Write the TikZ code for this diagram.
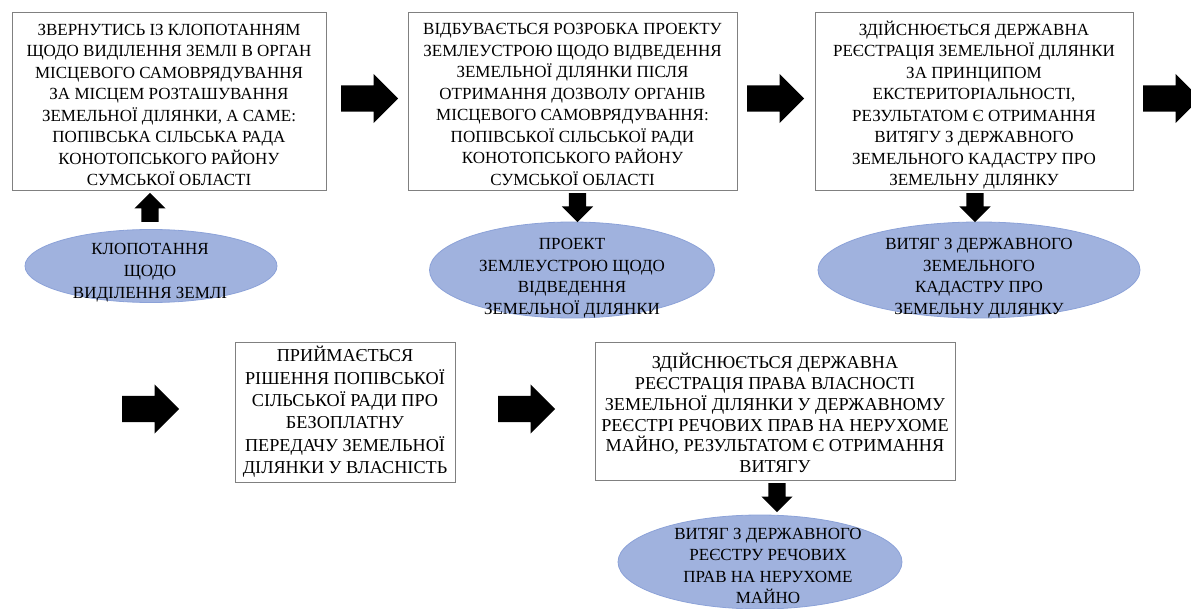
\documentclass[tikz,border=0pt]{standalone}
\usepackage{fontspec}
\setmainfont{Liberation Serif}
\usetikzlibrary{shapes.geometric,shapes.arrows}
\definecolor{boxgray}{RGB}{128,128,128}
\definecolor{ellfill}{RGB}{160,178,222}
\definecolor{elldraw}{RGB}{140,162,216}
\begin{document}
\begin{tikzpicture}[x=1pt,y=-1pt,
  txt/.style={font=\fontsize{17}{21.5}\selectfont, align=center, inner sep=0pt},
  txtb/.style={font=\fontsize{18.2}{22}\selectfont, align=center, inner sep=0pt},
  box/.style={draw=boxgray, line width=0.9pt, fill=white, inner sep=0pt},
  ell/.style={ellipse, draw=elldraw, line width=0.8pt, fill=ellfill, inner sep=0pt},
  rarrow/.style={single arrow, fill=black, draw=none, inner xsep=0pt, inner ysep=13pt,
    minimum height=57pt, single arrow head extend=11.5pt,
    single arrow head indent=0pt, anchor=tail},
  darrow/.style={single arrow, fill=black, draw=none, inner xsep=0pt, inner ysep=8.5pt,
    minimum height=29pt, single arrow head extend=7pt,
    single arrow head indent=0pt, rotate=270, anchor=tail},
  uarrow/.style={darrow, rotate=180}]
\useasboundingbox (0,0) rectangle (1191,609);
\clip (0,0) rectangle (1191,609);
% row 1 boxes
\node[box, minimum width=314pt, minimum height=178pt] (b1) at (169,101) {};
\node[txt] (b1t) at (169,105) {ЗВЕРНУТИСЬ ІЗ КЛОПОТАННЯМ\\ЩОДО ВИДІЛЕННЯ  ЗЕМЛІ В ОРГАН\\МІСЦЕВОГО САМОВРЯДУВАННЯ\\ЗА МІСЦЕМ  РОЗТАШУВАННЯ\\ЗЕМЕЛЬНОЇ ДІЛЯНКИ, А САМЕ:\\ПОПІВСЬКА СІЛЬСЬКА РАДА\\КОНОТОПСЬКОГО РАЙОНУ\\СУМСЬКОЇ ОБЛАСТІ};
\node[box, minimum width=329pt, minimum height=178pt] (b2) at (572.5,101) {};
\node[txt] (b2t) at (572.5,104.5) {ВІДБУВАЄТЬСЯ РОЗРОБКА ПРОЕКТУ\\ЗЕМЛЕУСТРОЮ ЩОДО ВІДВЕДЕННЯ\\ЗЕМЕЛЬНОЇ ДІЛЯНКИ ПІСЛЯ\\ОТРИМАННЯ ДОЗВОЛУ ОРГАНІВ\\МІСЦЕВОГО САМОВРЯДУВАННЯ:\\ПОПІВСЬКОЇ СІЛЬСЬКОЇ РАДИ\\КОНОТОПСЬКОГО РАЙОНУ\\СУМСЬКОЇ ОБЛАСТІ};
\node[box, minimum width=318pt, minimum height=178pt] (b3) at (974,101) {};
\node[txt] (b3t) at (974,105) {ЗДІЙСНЮЄТЬСЯ ДЕРЖАВНА\\РЕЄСТРАЦІЯ ЗЕМЕЛЬНОЇ ДІЛЯНКИ\\ЗА ПРИНЦИПОМ\\ЕКСТЕРИТОРІАЛЬНОСТІ,\\РЕЗУЛЬТАТОМ Є ОТРИМАННЯ\\ВИТЯГУ З ДЕРЖАВНОГО\\ЗЕМЕЛЬНОГО КАДАСТРУ ПРО\\ЗЕМЕЛЬНУ ДІЛЯНКУ};
% right arrows row 1
\node[rarrow] (a1) at (341,98.5) {};
\node[rarrow] (a2) at (747,98.5) {};
\node[rarrow] (a3) at (1143,98.5) {};
% ellipses row 1
\node[ell, minimum width=252pt, minimum height=73pt] (e1) at (151,266) {};
\node[txt, font=\fontsize{17}{22}\selectfont] (e1t) at (150,273) {КЛОПОТАННЯ\\ЩОДО\\ВИДІЛЕННЯ ЗЕМЛІ};
\node[ell, minimum width=285pt, minimum height=96pt] (e2) at (572,270) {};
\node[txt] (e2t) at (572,278) {ПРОЕКТ\\ЗЕМЛЕУСТРОЮ ЩОДО\\ВІДВЕДЕННЯ\\ЗЕМЕЛЬНОЇ ДІЛЯНКИ};
\node[ell, minimum width=322pt, minimum height=96pt] (e3) at (979,270) {};
\node[txt] (e3t) at (979,278) {ВИТЯГ З ДЕРЖАВНОГО\\ЗЕМЕЛЬНОГО\\КАДАСТРУ ПРО\\ЗЕМЕЛЬНУ ДІЛЯНКУ};
% vertical arrows row 1
\node[uarrow] (u1) at (150,222) {};
\node[darrow] (d2) at (577.5,193) {};
\node[darrow] (d3) at (975,193) {};
% row 2
\node[rarrow] (a4) at (122,409) {};
\node[box, minimum width=220pt, minimum height=140pt] (b4) at (345,412) {};
\node[txtb, font=\fontsize{18.2}{22.4}\selectfont] (b4t) at (345,412) {ПРИЙМАЄТЬСЯ\\РІШЕННЯ ПОПІВСЬКОЇ\\СІЛЬСЬКОЇ РАДИ ПРО\\БЕЗОПЛАТНУ\\ПЕРЕДАЧУ ЗЕМЕЛЬНОЇ\\ДІЛЯНКИ У ВЛАСНІСТЬ};
\node[rarrow] (a5) at (498,409) {};
\node[box, minimum width=360pt, minimum height=138pt] (b5) at (775,411) {};
\node[txtb, font=\fontsize{18.2}{20.8}\selectfont] (b5t) at (775,413) {ЗДІЙСНЮЄТЬСЯ ДЕРЖАВНА\\РЕЄСТРАЦІЯ ПРАВА ВЛАСНОСТІ\\ЗЕМЕЛЬНОЇ ДІЛЯНКИ У ДЕРЖАВНОМУ\\РЕЄСТРІ РЕЧОВИХ ПРАВ НА НЕРУХОМЕ\\МАЙНО, РЕЗУЛЬТАТОМ Є ОТРИМАННЯ\\ВИТЯГУ};
\node[darrow] (d5) at (777,483) {};
\node[ell, minimum width=284pt, minimum height=94pt] (e4) at (760,562) {};
\node[txt] (e4t) at (768,566) {ВИТЯГ З ДЕРЖАВНОГО\\РЕЄСТРУ РЕЧОВИХ\\ПРАВ НА НЕРУХОМЕ\\МАЙНО};
\end{tikzpicture}
\end{document}
